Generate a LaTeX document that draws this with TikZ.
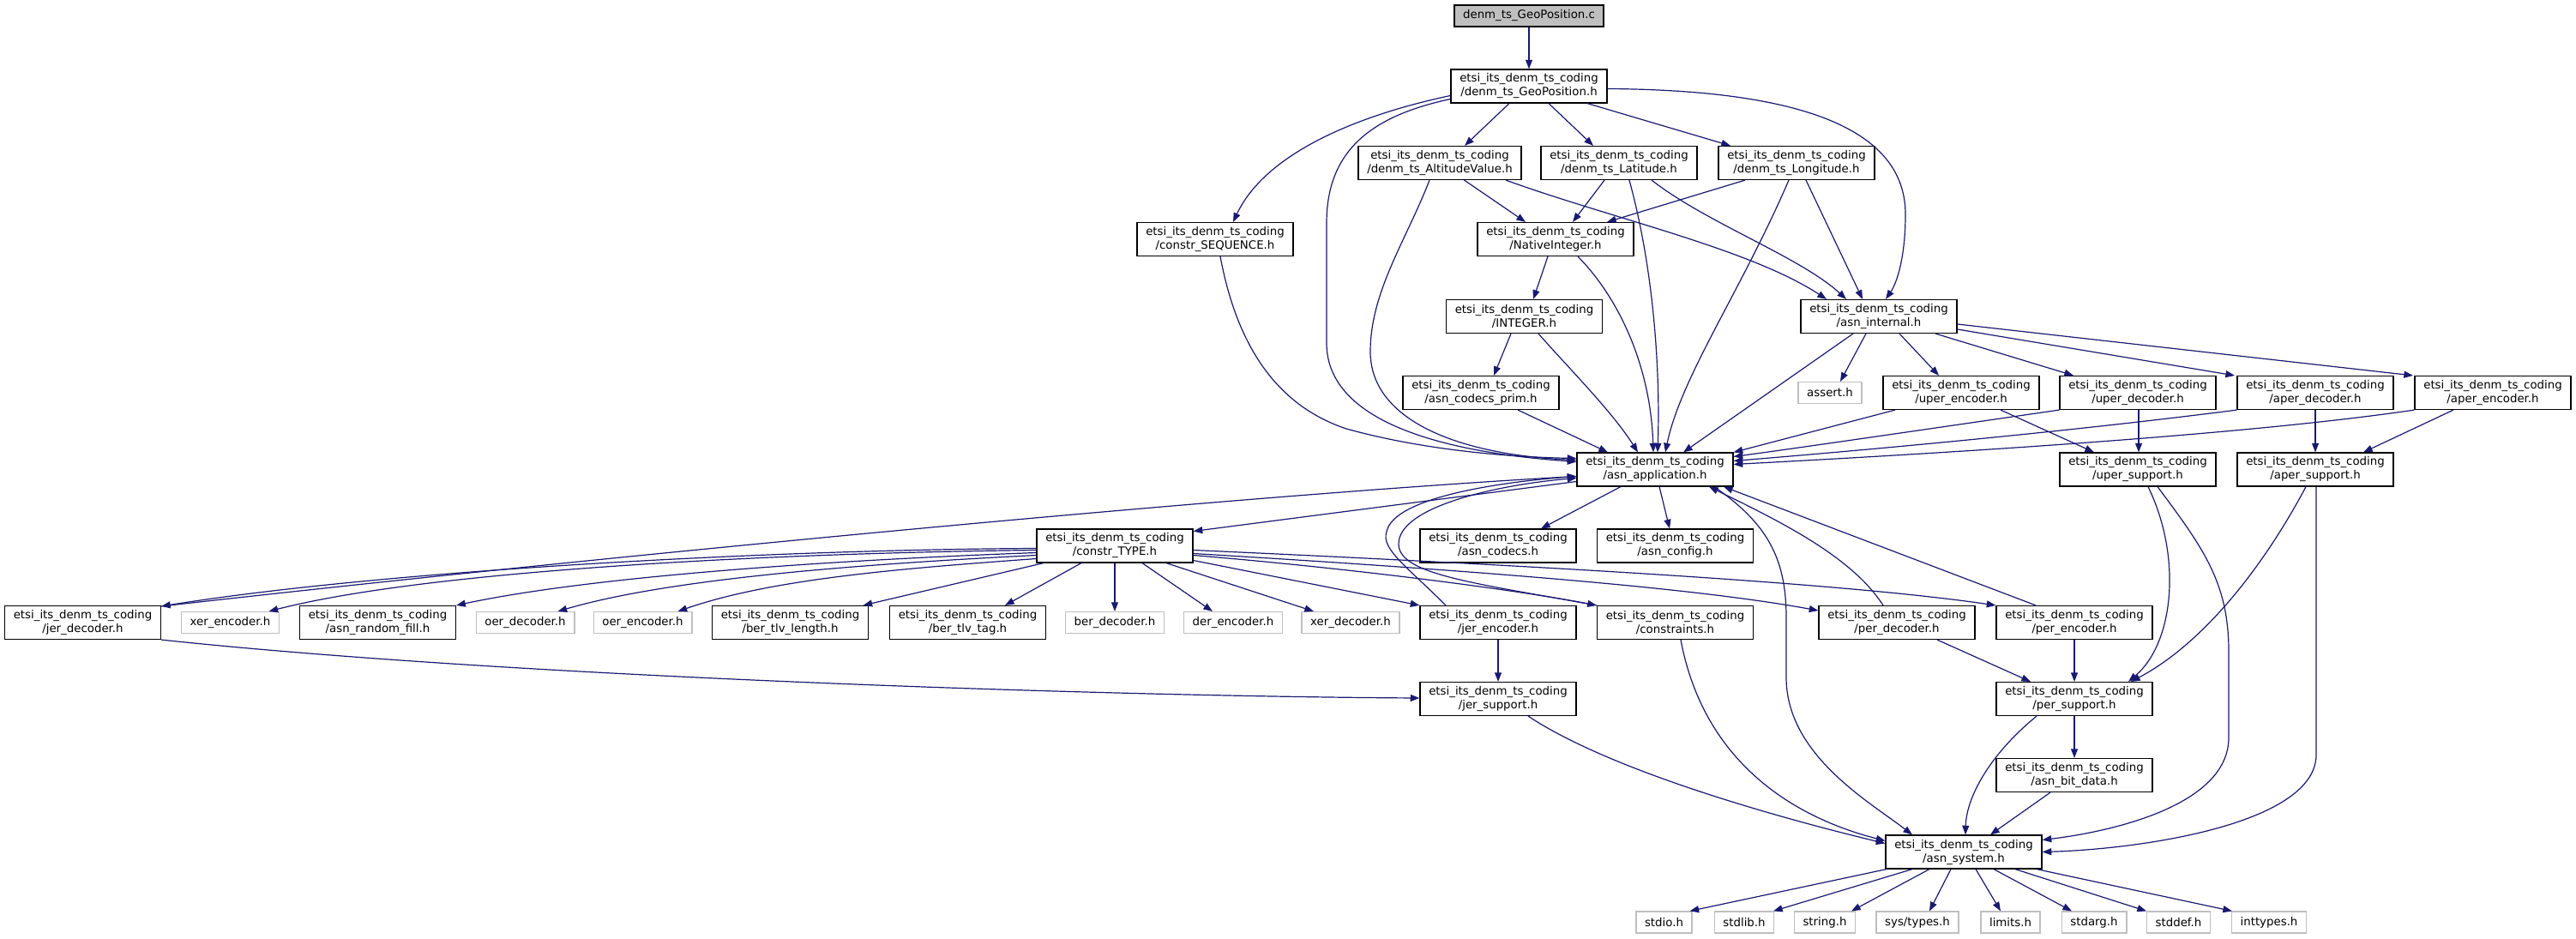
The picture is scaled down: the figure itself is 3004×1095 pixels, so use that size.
\documentclass[tikz,border=0pt]{standalone}
\usepackage{fontspec}
\setmainfont{DejaVu Sans}
\usetikzlibrary{arrows.meta,calc}
\definecolor{edgec}{HTML}{191970}
\definecolor{grayb}{HTML}{BFBFBF}
\newcommand\etsi[1]{etsi\_its\_denm\_ts\_coding\\/#1}
\tikzset{
  hdr/.style={draw=black, fill=white, line width=1.1pt, align=center, font=\fontsize{10}{12}\selectfont, inner xsep=7.6pt, inner ysep=2pt, minimum height=29pt},
  sysh/.style={draw=grayb, fill=white, line width=1.1pt, font=\fontsize{10}{12}\selectfont, inner xsep=7.6pt, inner ysep=2pt, minimum height=18.5pt},
  rooth/.style={draw=black, fill=grayb, line width=1.1pt, font=\fontsize{10}{12}\selectfont, inner xsep=7.6pt, inner ysep=2pt, minimum height=18.5pt},
  dep/.style={draw=edgec, line width=0.9pt, -{Triangle[length=8pt,width=6pt]}}
}
\begin{document}
\begin{tikzpicture}[x=0.75pt,y=-0.75pt]
\useasboundingbox (0,0) rectangle (3004,1095);
% nodes
\node[rooth] (c) at (1783,18.5) {denm\_ts\_GeoPosition.c};
\node[hdr] (geoh) at (1783,100.5) {\etsi{denm\_ts\_GeoPosition.h}};
\node[hdr] (alt) at (1679,190) {\etsi{denm\_ts\_AltitudeValue.h}};
\node[hdr] (lat) at (1888,190) {\etsi{denm\_ts\_Latitude.h}};
\node[hdr] (lon) at (2095,190) {\etsi{denm\_ts\_Longitude.h}};
\node[hdr] (seq) at (1417,279) {\etsi{constr\_SEQUENCE.h}};
\node[hdr] (nat) at (1814,279) {\etsi{NativeInteger.h}};
\node[hdr] (integer) at (1777.5,369) {\etsi{INTEGER.h}};
\node[hdr] (internal) at (2191,369) {\etsi{asn\_internal.h}};
\node[hdr] (prim) at (1727,458) {\etsi{asn\_codecs\_prim.h}};
\node[sysh] (assert) at (2134,458) {assert.h};
\node[hdr] (uenc) at (2287,458) {\etsi{uper\_encoder.h}};
\node[hdr] (udec) at (2493,458) {\etsi{uper\_decoder.h}};
\node[hdr] (adec) at (2700,458) {\etsi{aper\_decoder.h}};
\node[hdr] (aenc) at (2907,458) {\etsi{aper\_encoder.h}};
\node[hdr] (app) at (1930,547.5) {\etsi{asn\_application.h}};
\node[hdr] (usup) at (2493,547.5) {\etsi{uper\_support.h}};
\node[hdr] (asup) at (2700,547.5) {\etsi{aper\_support.h}};
\node[hdr] (ctype) at (1300,636.5) {\etsi{constr\_TYPE.h}};
\node[hdr] (codecs) at (1747,636.5) {\etsi{asn\_codecs.h}};
\node[hdr] (config) at (1953.5,636.5) {\etsi{asn\_config.h}};
\node[hdr] (jdec) at (96.5,726) {\etsi{jer\_decoder.h}};
\node[sysh] (xerenc) at (268.5,726) {xer\_encoder.h};
\node[hdr] (rfill) at (440.5,726) {\etsi{asn\_random\_fill.h}};
\node[sysh] (oerdec) at (612.5,726) {oer\_decoder.h};
\node[sysh] (oerenc) at (749.5,726) {oer\_encoder.h};
\node[hdr] (tlvlen) at (921.5,726) {\etsi{ber\_tlv\_length.h}};
\node[hdr] (tlvtag) at (1128.5,726) {\etsi{ber\_tlv\_tag.h}};
\node[sysh] (berdec) at (1300,726) {ber\_decoder.h};
\node[sysh] (derenc) at (1438,726) {der\_encoder.h};
\node[sysh] (xerdec) at (1575,726) {xer\_decoder.h};
\node[hdr] (jenc) at (1747,726) {\etsi{jer\_encoder.h}};
\node[hdr] (constr) at (1953.5,726) {\etsi{constraints.h}};
\node[hdr] (pdec) at (2212,726) {\etsi{per\_decoder.h}};
\node[hdr] (penc) at (2419,726) {\etsi{per\_encoder.h}};
\node[hdr] (jsup) at (1747,815) {\etsi{jer\_support.h}};
\node[hdr] (psup) at (2419,815) {\etsi{per\_support.h}};
\node[hdr] (bitdata) at (2419,904) {\etsi{asn\_bit\_data.h}};
\node[hdr] (system) at (2290,993.5) {\etsi{asn\_system.h}};
\node[sysh] (stdio) at (1940.5,1075.5) {stdio.h};
\node[sysh] (stdlib) at (2034,1075.5) {stdlib.h};
\node[sysh] (string) at (2128,1075.5) {string.h};
\node[sysh] (systypes) at (2236,1075.5) {sys/types.h};
\node[sysh] (limits) at (2344.5,1075.5) {limits.h};
\node[sysh] (stdarg) at (2442,1075.5) {stdarg.h};
\node[sysh] (stddef) at (2540.5,1075.5) {stddef.h};
\node[sysh] (inttypes) at (2646,1075.5) {inttypes.h};
% edges
\draw[dep] (c) -- (geoh);
\draw[dep] ($(geoh.south)+(-23,0)$) -- ($(alt.north)+(29,0)$);
\draw[dep] ($(geoh.south)+(23,0)$) -- ($(lat.north)+(-30,0)$);
\draw[dep] ($(geoh.south)+(68,0)$) -- ($(lon.north)+(-77,0)$);
\draw[dep] ($(geoh.west)+(0,11)$) .. controls (1580,135) and (1475,180) .. ($(seq.north)+(21,0)$);
\draw[dep] ($(geoh.west)+(0,15)$) .. controls (1600,135) and (1547,175) .. (1547,260) -- (1547,400) .. controls (1547,480) and (1650,525) .. ($(app.west)+(0,-9)$);
\draw[dep] ($(geoh.east)+(0,3)$) .. controls (2100,105) and (2222,150) .. (2222,250) .. controls (2222,300) and (2212,330) .. ($(internal.north)+(8,0)$);
\draw[dep] ($(alt.south)+(28.5,0)$) -- ($(nat.north)+(-35,0)$);
\draw[dep] ($(alt.south)+(77,0)$) .. controls (1880,255) and (2040,290) .. ($(internal.north)+(-61,0)$);
\draw[dep] ($(alt.south)+(-12,0)$) .. controls (1640,280) and (1598,340) .. (1598,410) .. controls (1598,490) and (1700,530) .. ($(app.west)+(0,-11)$);
\draw[dep] ($(lat.south)+(-17,0)$) -- ($(nat.north)+(20,0)$);
\draw[dep] ($(lat.south)+(12,0)$) .. controls (1930,320) and (1936,440) .. ($(app.north)+(3,0)$);
\draw[dep] ($(lat.south)+(38,0)$) .. controls (1990,260) and (2100,300) .. ($(internal.north)+(-38,0)$);
\draw[dep] ($(lon.south)+(-60,0)$) -- ($(nat.north)+(60,0)$);
\draw[dep] ($(lon.south)+(-9,0)$) .. controls (2030,340) and (1960,440) .. ($(app.north)+(12,0)$);
\draw[dep] ($(lon.south)+(11,0)$) -- ($(internal.north)+(-19,0)$);
\draw[dep] ($(nat.south)+(-9,0)$) -- ($(integer.north)+(10.5,0)$);
\draw[dep] ($(nat.south)+(26,0)$) .. controls (1890,350) and (1925,430) .. ($(app.north)+(-2,0)$);
\draw[dep] ($(integer.south)+(-15.5,0)$) -- ($(prim.north)+(15,0)$);
\draw[dep] ($(integer.south)+(16.5,0)$) .. controls (1830,430) and (1880,480) .. ($(app.north)+(-20,0)$);
\draw[dep] ($(prim.south)+(43,0)$) -- ($(app.north)+(-55,0)$);
\draw[dep] ($(seq.south)+(6,0)$) .. controls (1440,390) and (1480,470) .. (1570,500) .. controls (1660,525) and (1760,533) .. ($(app.west)+(0,-13)$);
\draw[dep] ($(internal.south)+(-30,0)$) -- ($(app.north)+(33,0)$);
\draw[dep] ($(internal.south)+(-15,0)$) -- ($(assert.north)+(12,0)$);
\draw[dep] ($(internal.south)+(24,0)$) -- ($(uenc.north)+(-26,0)$);
\draw[dep] ($(internal.south)+(66,0)$) -- ($(udec.north)+(-75,0)$);
\draw[dep] ($(internal.east)+(0,15)$) -- ($(adec.north)+(-94,0)$);
\draw[dep] ($(internal.east)+(0,9)$) -- ($(aenc.north)+(-93,0)$);
\draw[dep] ($(uenc.south)+(-77,0)$) -- (app.north east);
\draw[dep] ($(uenc.south)+(46,0)$) -- ($(usup.north)+(-51,0)$);
\draw[dep] (udec.south west) .. controls (2250,500) and (2100,522) .. ($(app.east)+(0,-15)$);
\draw[dep] ($(udec.south)+(1,0)$) -- ($(usup.north)+(1,0)$);
\draw[dep] (adec.south west) .. controls (2400,505) and (2150,527) .. ($(app.east)+(0,-10)$);
\draw[dep] (adec.south) -- (asup.north);
\draw[dep] (aenc.south west) .. controls (2600,510) and (2200,532) .. ($(app.east)+(0,-6)$);
\draw[dep] ($(aenc.south)+(-46,0)$) -- ($(asup.north)+(56,0)$);
\draw[dep] ($(usup.south)+(12,0)$) .. controls (2545,650) and (2535,750) .. ($(psup.north)+(63,0)$);
\draw[dep] ($(usup.south)+(23,0)$) .. controls (2570,640) and (2599,680) .. (2599,760) -- (2599,860) .. controls (2599,940) and (2460,970) .. ($(system.east)+(0,-14)$);
\draw[dep] ($(asup.south)+(-11,0)$) .. controls (2640,660) and (2570,750) .. ($(psup.north)+(66,0)$);
\draw[dep] ($(asup.south)+(1,0)$) -- (2701,880) .. controls (2701,960) and (2500,990) .. (system.east);
\draw[dep] ($(app.south)+(-40,0)$) -- ($(codecs.north)+(50,0)$);
\draw[dep] ($(app.south)+(5,0)$) -- ($(config.north)+(-6.5,0)$);
\draw[dep] ($(app.west)+(0,14)$) -- ($(ctype.east)+(0,-17)$);
\draw[dep] ($(app.south)+(69,0)$) .. controls (2060,610) and (2083,650) .. (2083,720) -- (2083,790) .. controls (2083,880) and (2180,935) .. ($(system.north)+(-60,0)$);
\draw[dep] ($(ctype.west)+(0,3)$) .. controls (900,641) and (450,665) .. ($(jdec.east)+(0,-19)$);
\draw[dep] ($(ctype.west)+(0,5)$) .. controls (900,645) and (500,665) .. ($(xerenc.north)+(45,0)$);
\draw[dep] ($(ctype.west)+(0,8)$) .. controls (1000,652) and (700,670) .. (rfill.north east);
\draw[dep] ($(ctype.west)+(0,11)$) .. controls (1000,658) and (780,675) .. ($(oerdec.north)+(38,0)$);
\draw[dep] ($(ctype.west)+(0,15)$) .. controls (1050,663) and (900,675) .. ($(oerenc.north)+(41,0)$);
\draw[dep] ($(ctype.south)+(-83,0)$) -- ($(tlvlen.north)+(85,0)$);
\draw[dep] ($(ctype.south)+(-39,0)$) -- ($(tlvtag.north)+(43.5,0)$);
\draw[dep] (ctype.south) -- (berdec.north);
\draw[dep] ($(ctype.south)+(32,0)$) -- ($(derenc.north)+(-24,0)$);
\draw[dep] ($(ctype.south)+(60,0)$) -- ($(xerdec.north)+(-43,0)$);
\draw[dep] ($(ctype.east)+(0,17)$) -- (jenc.north west);
\draw[dep] ($(ctype.east)+(0,11)$) .. controls (1600,665) and (1780,690) .. (constr.north west);
\draw[dep] ($(ctype.east)+(0,9)$) .. controls (1800,670) and (2000,690) .. ($(pdec.west)+(0,-14)$);
\draw[dep] ($(ctype.east)+(0,5)$) .. controls (1800,660) and (2150,680) .. (penc.north west);
\draw[dep] ($(jdec.east)+(0,-19)$) .. controls (600,660) and (1400,580) .. ($(app.west)+(0,8)$);
\draw[dep] (jdec.south east) .. controls (600,790) and (1300,812) .. ($(jsup.west)+(0,-1)$);
\draw[dep] ($(jenc.north)+(-61,0)$) .. controls (1640,660) and (1610,640) .. (1617,620) .. controls (1625,580) and (1750,562) .. ($(app.west)+(0,8)$);
\draw[dep] (constr.north west) .. controls (1720,680) and (1632,670) .. (1631,635) .. controls (1630,590) and (1750,565) .. ($(app.west)+(0,10)$);
\draw[dep] (jenc) -- (jsup);
\draw[dep] ($(constr.south)+(6.5,0)$) .. controls (1985,880) and (2080,950) .. ($(system.west)+(0,-13)$);
\draw[dep] ($(pdec.north)+(-16,0)$) .. controls (2160,650) and (2080,610) .. ($(app.south)+(63,0)$);
\draw[dep] ($(penc.north)+(-45,0)$) -- ($(app.south)+(80,0)$);
\draw[dep] ($(pdec.south)+(47,0)$) -- ($(psup.north)+(-51,0)$);
\draw[dep] (penc) -- (psup);
\draw[dep] ($(jsup.south)+(35,0)$) .. controls (1880,900) and (2080,955) .. ($(system.west)+(0,-10)$);
\draw[dep] ($(psup.south)+(-44,0)$) .. controls (2320,880) and (2293,930) .. ($(system.north)+(2,0)$);
\draw[dep] (psup) -- (bitdata);
\draw[dep] ($(bitdata.south)+(-28,0)$) -- ($(system.north)+(31,0)$);
\draw[dep] ($(system.south)+(-90,0)$) -- ($(stdio.north)+(30,0)$);
\draw[dep] ($(system.south)+(-60,0)$) -- ($(stdlib.north)+(34,0)$);
\draw[dep] ($(system.south)+(-40,0)$) -- ($(string.north)+(31,0)$);
\draw[dep] ($(system.south)+(-15,0)$) -- ($(systypes.north)+(14,0)$);
\draw[dep] ($(system.south)+(14,0)$) -- ($(limits.north)+(-11.5,0)$);
\draw[dep] ($(system.south)+(35,0)$) -- ($(stdarg.north)+(-26,0)$);
\draw[dep] ($(system.south)+(60,0)$) -- ($(stddef.north)+(-37.5,0)$);
\draw[dep] ($(system.south)+(85,0)$) -- ($(inttypes.north)+(-43,0)$);
\end{tikzpicture}
\end{document}
